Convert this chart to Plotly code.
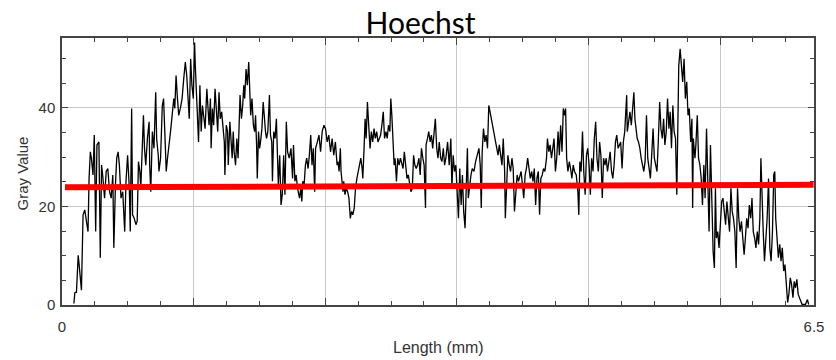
import plotly.graph_objects as go

# ---- profile data (Length in mm, Gray Value) ----
length_mm = [
    0.103, 0.111, 0.125, 0.140, 0.148, 0.160, 0.168, 0.182, 0.197, 0.211, 0.225, 0.234, 0.245, 0.254, 0.268,
    0.279, 0.291, 0.302, 0.319, 0.331, 0.342, 0.354, 0.368, 0.382, 0.396, 0.411, 0.425, 0.439, 0.448, 0.462,
    0.473, 0.485, 0.496, 0.510, 0.525, 0.542, 0.553, 0.567, 0.582, 0.590, 0.602, 0.610, 0.624, 0.639, 0.650,
    0.661, 0.673, 0.681, 0.696, 0.704, 0.713, 0.724, 0.738, 0.753, 0.758, 0.767, 0.781, 0.795, 0.810, 0.818,
    0.832, 0.838, 0.852, 0.867, 0.878, 0.889, 0.901, 0.912, 0.924, 0.938, 0.952, 0.966, 0.975, 0.986, 0.998,
    1.009, 1.023, 1.038, 1.052, 1.066, 1.078, 1.089, 1.100, 1.112, 1.123, 1.135, 1.146, 1.152, 1.163,
    1.180, 1.192, 1.203, 1.214, 1.226, 1.237, 1.252, 1.260, 1.271, 1.283, 1.289, 1.300, 1.311, 1.323, 1.334,
    1.346, 1.357, 1.368, 1.380, 1.391, 1.403, 1.408, 1.420, 1.431, 1.437, 1.451, 1.460, 1.471, 1.480, 1.488,
    1.500, 1.511, 1.522, 1.531, 1.539, 1.551, 1.562, 1.571, 1.579, 1.591, 1.602, 1.614, 1.622, 1.631, 1.642,
    1.654, 1.665, 1.673, 1.682, 1.688, 1.699, 1.708, 1.716, 1.728, 1.739, 1.750, 1.759, 1.768, 1.779, 1.793,
    1.802, 1.813, 1.819, 1.830, 1.842, 1.853, 1.864, 1.870, 1.882, 1.893, 1.904, 1.916, 1.927, 1.939, 1.950,
    1.964, 1.979, 1.993, 2.001, 2.013, 2.024, 2.036, 2.053, 2.064, 2.073, 2.081, 2.093, 2.104, 2.115, 2.127,
    2.138, 2.150, 2.161, 2.172, 2.184, 2.192,
    2.207, 2.221, 2.235, 2.249, 2.264, 2.278, 2.292, 2.306, 2.321, 2.335, 2.349, 2.363, 2.378, 2.386, 2.395,
    2.406, 2.412, 2.420, 2.429, 2.435, 2.446, 2.457, 2.469, 2.480, 2.492, 2.503, 2.514, 2.526, 2.537, 2.549,
    2.560, 2.571, 2.583, 2.594, 2.600, 2.611, 2.620, 2.629, 2.640, 2.651, 2.663, 2.674, 2.686, 2.697, 2.708,
    2.720, 2.731, 2.743, 2.754, 2.765, 2.777, 2.788, 2.800, 2.811, 2.822, 2.834, 2.842, 2.851, 2.862, 2.871,
    2.879, 2.891, 2.902, 2.914, 2.925, 2.936, 2.948, 2.959, 2.971, 2.982, 2.993, 3.005, 3.016, 3.028, 3.039,
    3.050, 3.062, 3.073, 3.085, 3.096, 3.107, 3.119, 3.130, 3.142, 3.147, 3.159, 3.170, 3.182, 3.193, 3.204,
    3.216, 3.227, 3.239, 3.250, 3.261, 3.273, 3.284, 3.296, 3.307,
    3.318, 3.333, 3.347, 3.361, 3.370, 3.381, 3.393, 3.404, 3.415, 3.427, 3.438, 3.450, 3.461, 3.472, 3.484,
    3.495, 3.504, 3.512, 3.524, 3.535, 3.546, 3.561, 3.575, 3.589, 3.604, 3.615, 3.624, 3.632, 3.643, 3.655,
    3.666, 3.678, 3.689, 3.700, 3.712, 3.723, 3.735, 3.746, 3.757, 3.769, 3.780, 3.792, 3.803, 3.814, 3.826,
    3.832, 3.843, 3.854, 3.866, 3.877, 3.889, 3.900, 3.911, 3.923, 3.934, 3.946, 3.957, 3.968, 3.980, 3.991,
    4.003, 4.014, 4.025, 4.037, 4.048, 4.060, 4.071, 4.082, 4.094, 4.105, 4.117, 4.128, 4.139, 4.151, 4.162,
    4.174, 4.188, 4.196, 4.208, 4.219, 4.231, 4.242, 4.253, 4.265, 4.276, 4.288, 4.299, 4.310, 4.322, 4.333,
    4.345, 4.353, 4.362, 4.373, 4.385, 4.396, 4.407, 4.419,
    4.430, 4.445, 4.459, 4.467, 4.476, 4.487, 4.499, 4.510, 4.522, 4.533, 4.544, 4.556, 4.567, 4.578, 4.590,
    4.601, 4.613, 4.624, 4.636, 4.647, 4.658, 4.670, 4.681, 4.693, 4.704, 4.715, 4.727, 4.738, 4.750, 4.761,
    4.772, 4.784, 4.795, 4.807, 4.818, 4.829, 4.841, 4.852, 4.864, 4.875, 4.881, 4.886, 4.898, 4.909, 4.921,
    4.932, 4.943, 4.952, 4.960, 4.972, 4.983, 4.995, 5.006, 5.018, 5.029, 5.040, 5.052, 5.063, 5.075, 5.086,
    5.097, 5.109, 5.120, 5.132, 5.143, 5.154, 5.166, 5.177, 5.189, 5.200, 5.211, 5.223, 5.234, 5.246, 5.257,
    5.268, 5.280, 5.291, 5.303, 5.314, 5.323, 5.331, 5.343, 5.354, 5.365, 5.377, 5.388, 5.400, 5.411, 5.422,
    5.434, 5.445, 5.451,
    5.457, 5.471, 5.479, 5.491, 5.502, 5.514, 5.525, 5.536, 5.548, 5.559, 5.571, 5.582, 5.593, 5.605, 5.616,
    5.628, 5.639, 5.648, 5.656, 5.668, 5.679, 5.690, 5.702, 5.713, 5.725, 5.736, 5.747, 5.759, 5.770, 5.782,
    5.793, 5.804, 5.816, 5.827, 5.839, 5.850, 5.861, 5.873, 5.884, 5.896, 5.907, 5.918, 5.930, 5.941, 5.953,
    5.964, 5.975, 5.987, 5.998, 6.010, 6.021, 6.032, 6.041, 6.050, 6.061, 6.072, 6.084, 6.095, 6.107, 6.118,
    6.129, 6.141, 6.152, 6.161, 6.169, 6.181, 6.192, 6.204, 6.215, 6.226, 6.238, 6.249, 6.260, 6.272, 6.283,
    6.295, 6.306, 6.318, 6.329, 6.340, 6.352, 6.363, 6.374, 6.386, 6.397, 6.426, 6.443, 6.454,
]

gray_value = [
    0.3, 2.5, 2.6, 10.1, 8.2, 5.5, 3.0, 18.3, 19.3, 17.0, 14.9, 25.7, 31.1, 29.8, 26.4,
    34.5, 14.9, 32.5, 33.1, 9.6, 28.4, 25.7, 21.7, 27.1, 27.7, 23.0, 21.7, 26.4, 11.6, 24.4,
    29.8, 31.1, 28.4, 21.7, 23.0, 14.9, 25.1, 30.4, 23.7, 14.9, 39.9, 18.3, 17.6, 16.3, 17.0,
    29.1, 27.1, 23.7, 33.1, 38.5, 31.8, 28.4, 33.8, 37.2, 28.4, 23.0, 35.2, 31.8, 43.2, 33.8,
    30.4, 27.1, 29.8, 40.5, 41.9, 35.2, 27.1, 29.8, 31.8, 35.2, 38.5, 41.9, 39.9, 46.6, 41.9,
    38.5, 39.9, 41.9, 45.9, 49.3, 46.6, 41.9, 37.8, 50.0, 44.6, 41.9, 53.3, 48.6, 43.2,
    33.1, 44.6, 35.2, 40.5, 37.2, 35.8, 43.9, 40.5, 36.5, 41.9, 31.8, 39.9, 36.5, 43.9, 38.5,
    35.2, 43.2, 37.8, 39.2, 35.8, 33.1, 26.4, 36.5, 35.2, 28.4, 37.2, 33.1, 29.8, 35.2, 31.1,
    28.4, 33.8, 29.8, 36.5, 42.6, 37.8, 40.5, 44.6, 41.9, 47.9, 44.6, 49.3, 43.9, 38.5, 41.9,
    36.5, 35.2, 38.5, 32.5, 25.7, 35.2, 31.8, 33.1, 35.8, 41.2, 36.5, 35.2, 33.8, 35.2, 42.6,
    34.5, 33.1, 25.1, 35.2, 33.8, 37.8, 28.4, 24.4, 30.4, 20.3, 22.4, 30.4, 22.4, 37.2, 31.1,
    29.8, 31.8, 25.7, 32.5, 25.1, 26.4, 23.7, 21.7, 23.7, 21.0, 25.1, 24.4, 28.4, 29.8, 27.7,
    30.4, 34.5, 28.4, 31.8, 23.0, 31.8,
    33.1, 34.5, 31.1, 35.2, 36.5, 35.8, 33.1, 34.5, 31.1, 33.8, 30.4, 33.1, 28.4, 29.1, 27.1,
    31.8, 27.1, 24.4, 23.0, 25.1, 22.4, 23.7, 23.0, 21.7, 17.6, 19.0, 18.3, 19.7, 23.7, 25.7,
    27.1, 28.4, 29.8, 27.7, 25.7, 31.8, 37.8, 33.8, 41.2, 36.5, 31.8, 35.2, 33.1, 35.8, 33.8,
    35.2, 33.1, 33.8, 34.5, 36.5, 39.2, 33.8, 35.2, 33.8, 36.5, 35.2, 41.9, 38.5, 33.8, 28.4,
    29.8, 25.1, 29.8, 28.4, 29.8, 28.4, 27.7, 31.1, 27.7, 25.7, 26.4, 24.4, 23.0, 23.7, 30.4,
    28.4, 27.7, 28.4, 29.8, 26.4, 31.8, 29.8, 28.4, 19.7, 32.5, 33.8, 35.2, 33.1, 34.5, 31.8,
    35.2, 37.8, 31.8, 29.8, 33.1, 29.8, 29.1, 31.8, 28.4,
    29.8, 33.1, 28.4, 33.8, 23.7, 30.4, 27.1, 28.4, 23.0, 17.6, 27.7, 20.3, 26.4, 19.0, 15.6,
    25.1, 31.8, 21.7, 25.1, 26.4, 27.7, 27.1, 29.1, 30.4, 31.8, 28.4, 19.7, 31.1, 35.8, 33.1,
    34.5, 31.8, 40.5, 39.2, 37.8, 35.8, 34.5, 33.1, 31.8, 30.4, 32.5, 29.8, 28.4, 33.8, 27.1,
    17.6, 23.0, 30.4, 28.4, 27.1, 29.8, 27.7, 19.0, 23.7, 26.4, 25.1, 26.4, 27.1, 24.4, 21.7,
    26.4, 27.7, 29.8, 27.1, 25.7, 27.1, 25.1, 27.7, 20.3, 25.7, 27.1, 18.3, 25.7, 26.4, 27.7,
    27.1, 29.8, 33.8, 31.1, 32.5, 29.8, 31.8, 33.8, 27.1, 29.8, 35.2, 30.4, 36.5, 31.1, 39.9,
    38.5, 39.9, 29.8, 27.1, 29.1, 27.7, 25.7, 28.4,
    27.1, 26.4, 23.0, 18.3, 29.1, 27.1, 35.2, 27.1, 22.4, 30.4, 31.8, 28.4, 22.4, 29.8, 27.1,
    33.8, 37.2, 29.8, 27.1, 33.1, 30.4, 21.7, 29.8, 28.4, 29.8, 27.1, 29.8, 31.1, 27.1, 25.7,
    28.4, 33.1, 34.5, 31.8, 32.5, 33.1, 27.7, 33.1, 35.2, 39.9, 42.6, 35.2, 37.8, 39.2, 36.5,
    40.5, 43.2, 37.8, 35.8, 33.8, 33.1, 31.8, 29.8, 28.4, 27.1, 29.1, 38.5, 29.8, 27.1, 25.7,
    30.4, 35.8, 29.8, 28.4, 27.1, 33.1, 41.2, 35.8, 33.8, 37.8, 32.5, 35.2, 41.9, 35.8, 39.2,
    31.8, 40.5, 35.2, 33.8, 22.4, 41.9, 48.6, 52.0, 47.3, 45.3, 50.0, 41.9, 45.3, 38.5, 39.9,
    33.1, 37.8, 19.7,
    33.8, 29.8, 32.5, 38.5, 29.8, 28.4, 25.7, 20.3, 28.4, 21.7, 35.8, 24.4, 14.9, 32.5, 19.7,
    10.9, 7.5, 23.7, 13.6, 14.9, 11.6, 17.6, 21.0, 21.7, 19.0, 16.3, 21.0, 17.6, 14.9, 23.7,
    19.0, 17.6, 14.9, 7.5, 23.7, 17.6, 14.9, 17.0, 12.9, 10.2, 13.6, 17.6, 15.6, 20.3, 17.6,
    21.7, 14.9, 13.6, 11.6, 14.9, 12.3, 17.6, 29.8, 21.7, 14.9, 8.9, 13.6, 17.6, 25.7, 11.6,
    8.9, 14.9, 26.4, 27.1, 17.6, 13.6, 9.6, 12.3, 8.9, 11.6, 6.9, 8.2, 4.2, 0.5, 2.2,
    5.5, 4.2, 1.5, 4.8, 3.5, 5.2, 2.2, 1.5, 0.5, 0.1, 0.1, 1.1, 0.1,
]

# ---- mean / threshold line ----
mean_line_x = [0.026, 6.497]
mean_line_y = [23.9, 24.4]

# ---- axis ticks ----
x_major_ticks = [0, 1.1375, 2.275, 3.4125, 4.55, 5.6875, 6.5]
x_tick_text = ["0", "", "", "", "", "", "6.5"]
y_major_ticks = [0, 20, 40]

fig = go.Figure()
fig.add_trace(go.Scatter(
    x=length_mm, y=gray_value, mode="lines",
    line=dict(color="black", width=1.3), hoverinfo="skip", showlegend=False,
))
fig.add_trace(go.Scatter(
    x=mean_line_x, y=mean_line_y, mode="lines",
    line=dict(color="#ff0000", width=6), hoverinfo="skip", showlegend=False,
))

axis_color = "#444444"
fig.update_layout(
    width=836, height=360,
    margin=dict(l=62, r=14, t=38, b=55),
    paper_bgcolor="white", plot_bgcolor="white",
    showlegend=False,
    font=dict(family="Liberation Sans, Arial, sans-serif", size=15, color="#333333"),
    title=dict(text="Hoechst", x=0.503, xanchor="center", xref="container",
               y=0.936, yanchor="middle", yref="container",
               font=dict(family="Lato, Open Sans, sans-serif", size=30, color="black")),
    annotations=[
        dict(text="Gray Value", xref="paper", yref="paper", x=0, y=0.5,
             xshift=-40, yshift=-2, textangle=-90, showarrow=False,
             xanchor="center", yanchor="middle",
             font=dict(family="Liberation Sans, Arial, sans-serif", size=15, color="#333333")),
        dict(text="Length (mm)", xref="paper", yref="paper", x=0.5, y=0,
             yshift=-42, showarrow=False, xanchor="center", yanchor="middle",
             font=dict(family="Liberation Sans, Arial, sans-serif", size=16, color="#333333")),
    ],
)
fig.update_xaxes(
    range=[0, 6.5], tickmode="array", tickvals=x_major_ticks, ticktext=x_tick_text,
    ticks="inside", ticklen=7, tickwidth=1, tickcolor=axis_color,
    showgrid=True, gridcolor="#c8c8c8", gridwidth=1,
    showline=True, linecolor=axis_color, linewidth=1.5, mirror="ticks",
    zeroline=False, ticklabelstandoff=7,
    minor=dict(tickmode="linear", tick0=0, dtick=0.284375, ticks="inside",
               ticklen=4, tickwidth=1, tickcolor=axis_color, showgrid=False),
)
fig.update_yaxes(
    range=[0, 54.2], tickmode="array", tickvals=y_major_ticks,
    ticks="inside", ticklen=6, tickwidth=1, tickcolor=axis_color,
    showgrid=True, gridcolor="#c8c8c8", gridwidth=1,
    showline=True, linecolor=axis_color, linewidth=1.5, mirror="ticks",
    zeroline=False, ticklabelstandoff=2,
    minor=dict(tickmode="linear", tick0=0, dtick=5, ticks="inside",
               ticklen=4, tickwidth=1, tickcolor=axis_color, showgrid=False),
)

fig.write_html("out.html")
